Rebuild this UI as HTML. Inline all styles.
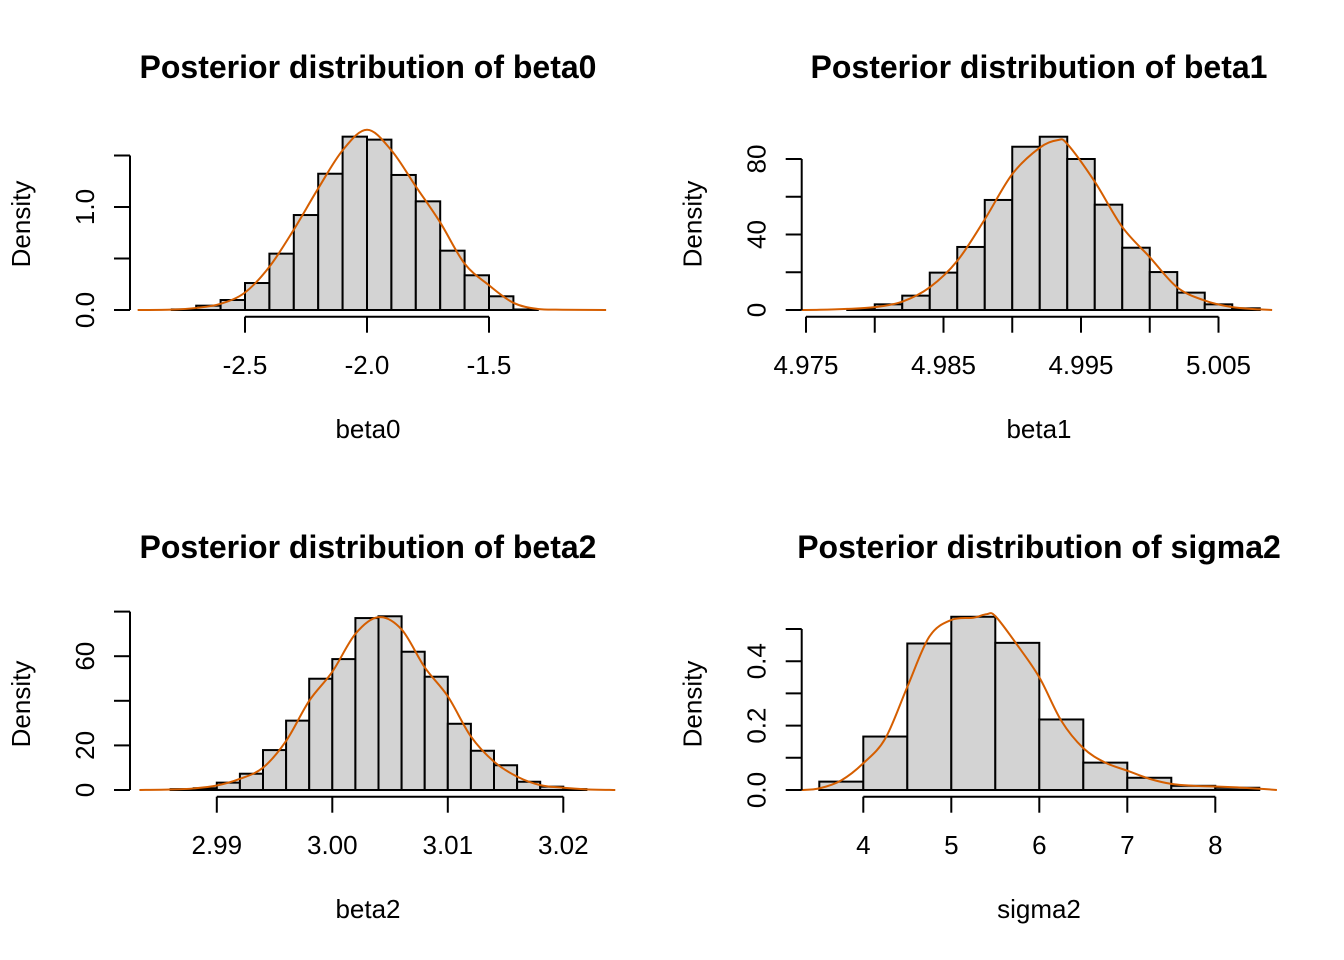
<!DOCTYPE html>
<html><head><meta charset="utf-8"><style>
html,body{margin:0;padding:0;background:#fff}
svg{display:block}
text{font-family:"Liberation Sans",Arial,sans-serif;fill:#000}
.t{font-size:32px;font-weight:bold}
.l{font-size:26px}
</style></head><body>
<svg id="chart" width="1344" height="960" viewBox="0 0 1344 960"></svg>
<script>
// beta0
const b0Bins = [-2.8,-2.7,-2.6,-2.5,-2.4,-2.3,-2.2,-2.1,-2.0,-1.9,-1.8,-1.7,-1.6,-1.5,-1.4,-1.3];
const b0Dens = [0.006,0.042,0.097,0.262,0.547,0.922,1.323,1.683,1.654,1.311,1.055,0.576,0.337,0.133,0.005];
const b0CurveX = [-2.94,-2.8,-2.7,-2.6,-2.5,-2.4,-2.3,-2.2,-2.1,-2.0,-1.9,-1.8,-1.7,-1.6,-1.5,-1.4,-1.3,-1.2,-1.02];
const b0CurveY = [0,0.004,0.02,0.06,0.17,0.42,0.78,1.18,1.55,1.75,1.55,1.2,0.85,0.45,0.24,0.07,0.01,0.003,0];
const b0XTicks = [-2.5,-2.0,-1.5];
const b0XLabels = ["-2.5","-2.0","-1.5"];
const b0YTicks = [0,0.5,1.0,1.5];
const b0YLabels = ["0.0","","1.0",""];
// beta1
const b1Bins = [4.978,4.980,4.982,4.984,4.986,4.988,4.990,4.992,4.994,4.996,4.998,5.000,5.002,5.004,5.006,5.008];
const b1Dens = [0.5,3.0,7.6,19.8,33.4,58.3,86.5,91.8,80,55.8,33,20.1,9.2,3.0,0.9];
const b1CurveX = [4.9747,4.976,4.978,4.980,4.982,4.984,4.986,4.988,4.990,4.992,4.9933,4.994,4.996,4.998,5.000,5.002,5.004,5.006,5.008,5.0089];
const b1CurveY = [0,0.1,0.6,1.5,4.4,12,26,48,72,86,90,88,68,44,28,12,5,1.5,0.3,0];
const b1XTicks = [4.975,4.980,4.985,4.990,4.995,5.000,5.005];
const b1XLabels = ["4.975","","4.985","","4.995","","5.005"];
const b1YTicks = [0,20,40,60,80];
const b1YLabels = ["0","","40","","80"];
// beta2
const b2Bins = [2.986,2.988,2.990,2.992,2.994,2.996,2.998,3.000,3.002,3.004,3.006,3.008,3.010,3.012,3.014,3.016,3.018,3.020,3.022];
const b2Dens = [0.4,0.8,3.3,7.3,17.9,31.1,49.9,58.7,77.1,77.9,62,50.8,29.7,17.6,11.1,3.7,1.5,0.4];
const b2CurveX = [2.9833,2.986,2.988,2.990,2.992,2.994,2.996,2.998,3.000,3.002,3.004,3.006,3.008,3.010,3.012,3.014,3.016,3.018,3.020,3.022,3.0245];
const b2CurveY = [0,0.2,0.7,2,5,10,22,40,53,70,77.5,72,55,42,24,12.7,6,2.2,1,0.3,0];
const b2XTicks = [2.99,3.00,3.01,3.02];
const b2XLabels = ["2.99","3.00","3.01","3.02"];
const b2YTicks = [0,20,40,60,80];
const b2YLabels = ["0","20","","60",""];
// sigma2
const s2Bins = [3.5,4.0,4.5,5.0,5.5,6.0,6.5,7.0,7.5,8.0,8.5];
const s2Dens = [0.026,0.166,0.455,0.538,0.457,0.219,0.085,0.038,0.013,0.007];
const s2CurveX = [3.3,3.5,3.75,4.0,4.25,4.5,4.75,5.0,5.25,5.4,5.5,5.75,6.0,6.25,6.5,6.75,7.0,7.25,7.5,7.75,8.0,8.25,8.5,8.7];
const s2CurveY = [0,0.005,0.03,0.083,0.16,0.32,0.476,0.528,0.535,0.546,0.54,0.45,0.35,0.215,0.13,0.085,0.06,0.035,0.019,0.013,0.011,0.008,0.004,0];
const s2XTicks = [4,5,6,7,8];
const s2XLabels = ["4","5","6","7","8"];
const s2YTicks = [0,0.1,0.2,0.3,0.4,0.5];
const s2YLabels = ["0.0","","0.2","","0.4",""];

const NS = "http://www.w3.org/2000/svg";
const svg = document.getElementById('chart');
function mk(tag, attrs, parent){const e=document.createElementNS(NS,tag);for(const k in attrs)e.setAttribute(k,attrs[k]);(parent||svg).appendChild(e);return e;}

function panel(o){
  const g = mk('g',{});
  
  
  const sx = v => o.x0px + (v - o.x0v) * o.xk;
  const sy = v => o.base - v * o.yk;
  const t = mk('text',{x:o.cx,y:o.ty,'text-anchor':'middle','class':'t'},g);
  t.textContent = o.title;
  
  
  for(let i=0;i<o.dens.length;i++){
    const x1=sx(o.bins[i]), x2=sx(o.bins[i+1]), y=sy(o.dens[i]);
    const r = mk('rect',{x:x1,y:y,width:x2-x1,height:o.base-y,fill:'#d3d3d3',stroke:'#000','stroke-width':2},g);
    
    
  }
  const pts = o.cx_.map((v,i)=>[sx(v),sy(o.cy_[i])]);
  let d = 'M'+pts[0][0]+','+pts[0][1];
  for(let i=0;i<pts.length-1;i++){
    const p0=pts[i-1]||pts[i],p1=pts[i],p2=pts[i+1],p3=pts[i+2]||p2;
    const c1=[p1[0]+(p2[0]-p0[0])/6,p1[1]+(p2[1]-p0[1])/6];
    const c2=[p2[0]-(p3[0]-p1[0])/6,p2[1]-(p3[1]-p1[1])/6];
    d+=' C'+c1[0]+','+Math.min(c1[1],o.base)+' '+c2[0]+','+Math.min(c2[1],o.base)+' '+p2[0]+','+p2[1];
  }
  const c = mk('path',{d:d,fill:'none',stroke:'#d55e00','stroke-width':2},g);
  
  
  const ax = mk('g',{},g);
  
  
  const ay = o.base+6.7;
  mk('line',{x1:sx(o.xt[0]),x2:sx(o.xt[o.xt.length-1]),y1:ay,y2:ay,stroke:'#000','stroke-width':2},ax);
  o.xt.forEach((v,i)=>{
    mk('line',{x1:sx(v),x2:sx(v),y1:ay,y2:ay+16,stroke:'#000','stroke-width':2},ax);
    if(o.xl[i]){const tl=mk('text',{x:sx(v),y:o.base+64,'text-anchor':'middle','class':'l'},ax);tl.textContent=o.xl[i];
      
      }
  });
  const xl = mk('text',{x:o.cx,y:o.base+128,'text-anchor':'middle','class':'l'},g);
  xl.textContent = o.key;
  
  
  const yg = mk('g',{},g);
  
  
  mk('line',{x1:o.yax,x2:o.yax,y1:sy(o.yt[0]),y2:sy(o.yt[o.yt.length-1]),stroke:'#000','stroke-width':2},yg);
  o.yt.forEach((v,i)=>{
    mk('line',{x1:o.yax,x2:o.yax-16,y1:sy(v),y2:sy(v),stroke:'#000','stroke-width':2},yg);
    if(o.yl[i]){const tl=mk('text',{x:0,y:0,'text-anchor':'middle','class':'l',transform:'translate('+(o.yax-36)+','+sy(v)+') rotate(-90)'},yg);tl.textContent=o.yl[i];
      
      }
  });
  const yl = mk('text',{x:0,y:0,'text-anchor':'middle','class':'l',transform:'translate('+(o.yax-100)+','+(o.base-86)+') rotate(-90)'},g);
  yl.textContent = 'Density';
  
  
}

panel({key:'beta0',title:'Posterior distribution of beta0',cx:368,ty:78,base:310,yk:103,x0v:-2.0,x0px:367,xk:244,yax:130,
  bins:b0Bins,dens:b0Dens,cx_:b0CurveX,cy_:b0CurveY,xt:b0XTicks,xl:b0XLabels,yt:b0YTicks,yl:b0YLabels});
panel({key:'beta1',title:'Posterior distribution of beta1',cx:1039,ty:78,base:310,yk:1.8875,x0v:4.975,x0px:806,xk:13750,yax:801.7,
  bins:b1Bins,dens:b1Dens,cx_:b1CurveX,cy_:b1CurveY,xt:b1XTicks,xl:b1XLabels,yt:b1YTicks,yl:b1YLabels});
panel({key:'beta2',title:'Posterior distribution of beta2',cx:368,ty:558,base:790,yk:2.23,x0v:3.0,x0px:332.3,xk:11550,yax:130,
  bins:b2Bins,dens:b2Dens,cx_:b2CurveX,cy_:b2CurveY,xt:b2XTicks,xl:b2XLabels,yt:b2YTicks,yl:b2YLabels});
panel({key:'sigma2',title:'Posterior distribution of sigma2',cx:1039,ty:558,base:790,yk:322,x0v:4,x0px:863.3,xk:88,yax:801.7,
  bins:s2Bins,dens:s2Dens,cx_:s2CurveX,cy_:s2CurveY,xt:s2XTicks,xl:s2XLabels,yt:s2YTicks,yl:s2YLabels});
</script>
</body></html>
